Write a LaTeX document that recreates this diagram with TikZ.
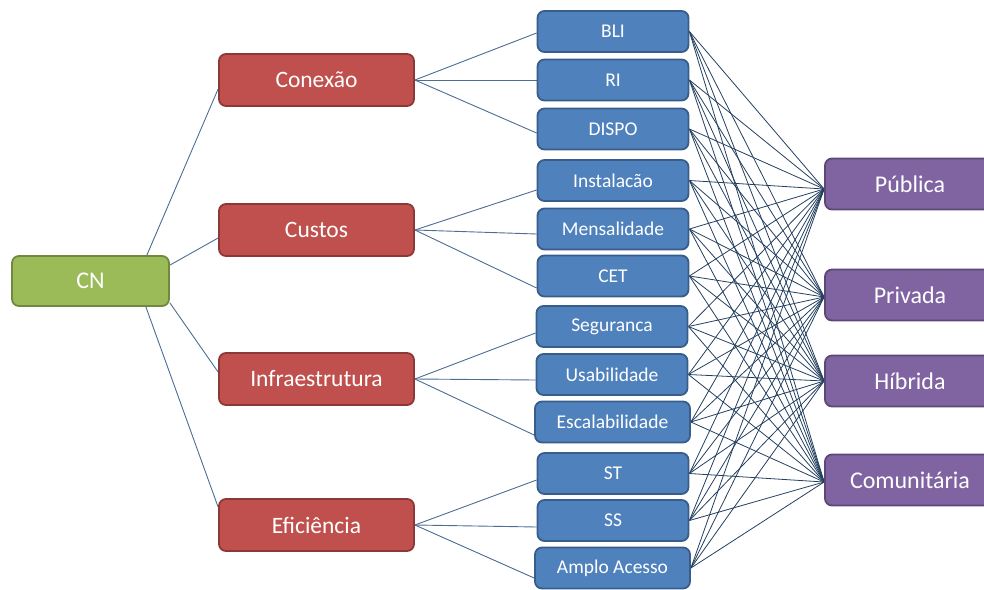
\documentclass[tikz,border=0pt]{standalone}
\usepackage{fontspec}
\setmainfont{Carlito}
\usetikzlibrary{calc,backgrounds}
\definecolor{grfill}{HTML}{9BBB59}
\definecolor{grline}{HTML}{71893F}
\definecolor{rdfill}{HTML}{C0504D}
\definecolor{rdline}{HTML}{8C3836}
\definecolor{blfill}{HTML}{4F81BD}
\definecolor{blline}{HTML}{385D8A}
\definecolor{pufill}{HTML}{8064A2}
\definecolor{puline}{HTML}{5C4776}
\definecolor{lnkA}{HTML}{4D6D93}
\definecolor{lnkB}{HTML}{24405F}
\begin{document}
\begin{tikzpicture}[x=1pt,y=-1pt,
  box/.style={rounded corners=7pt, line width=1.8pt, inner sep=0pt, text=white},
  cnbox/.style={box, fill=grfill, draw=grline, minimum width=157pt, minimum height=50pt, font=\fontsize{24}{28}\selectfont},
  redbox/.style={box, fill=rdfill, draw=rdline, minimum width=195pt, minimum height=52pt, font=\fontsize{23.5}{28}\selectfont},
  bluebox/.style={box, fill=blfill, draw=blline, minimum width=151pt, minimum height=41pt, font=\fontsize{19.5}{23}\selectfont},
  widebluebox/.style={bluebox, minimum width=155pt},
  purbox/.style={box, fill=pufill, draw=puline, minimum width=170pt, minimum height=51pt, font=\fontsize{24}{28}\selectfont},
  linkA/.style={draw=lnkA, line width=0.9pt},
  linkB/.style={draw=lnkB, line width=0.8pt}]
\useasboundingbox (0,0) rectangle (984,589);

\node[cnbox] (cn) at (90.5,281) {CN};

\node[redbox] (conexao) at (316.5,80) {Conexão};
\node[redbox] (custos) at (316.5,230) {Custos};
\node[redbox] (infra) at (316.5,379) {Infraestrutura};
\node[redbox] (efic) at (316.5,525) {Eficiência};

\node[bluebox] (bli) at (613,31.5) {BLI};
\node[bluebox] (ri) at (613,80) {RI};
\node[bluebox] (dispo) at (613,129) {DISPO};
\node[bluebox] (inst) at (613,180.5) {Instalacão};
\node[bluebox] (mens) at (613,229) {Mensalidade};
\node[bluebox] (cet) at (613,276) {CET};
\node[bluebox] (seg) at (612,326.5) {Seguranca};
\node[bluebox] (usa) at (612,374.5) {Usabilidade};
\node[widebluebox] (esc) at (612.5,422) {Escalabilidade};
\node[bluebox] (st) at (613,473.5) {ST};
\node[bluebox] (ss) at (613,520.5) {SS};
\node[widebluebox] (amplo) at (612.5,568) {Amplo Acesso};

\node[purbox] (pub) at (910,184) {Pública};
\node[purbox] (pri) at (910,295) {Privada};
\node[purbox] (hib) at (910,381) {Híbrida};
\node[purbox] (com) at (910,480) {Comunitária};

\begin{scope}[on background layer]
  \draw[linkA] ($(cn.north east)+(-23,0)$) -- ($(conexao.west)+(0,9)$);
  \draw[linkA] ($(cn.north east)+(0,10)$) -- ($(custos.west)+(0,8)$);
  \draw[linkA] ($(cn.south east)+(0,-4)$) -- ($(infra.west)+(0,-7)$);
  \draw[linkA] ($(cn.south east)+(-24,0)$) -- ($(efic.west)+(0,-18)$);

  \draw[linkA] (conexao.east) -- ($(bli.west)+(0,1.5)$);
  \draw[linkA] (conexao.east) -- (ri.west);
  \draw[linkA] (conexao.east) -- ($(dispo.west)+(0,4)$);
  \draw[linkA] (custos.east) -- ($(inst.west)+(0,9.5)$);
  \draw[linkA] (custos.east) -- ($(mens.west)+(0,5)$);
  \draw[linkA] (custos.east) -- ($(cet.west)+(0,12)$);
  \draw[linkA] (infra.east) -- ($(seg.west)+(0,6.5)$);
  \draw[linkA] (infra.east) -- ($(usa.west)+(0,5.5)$);
  \draw[linkA] (infra.east) -- ($(esc.west)+(0,13)$);
  \draw[linkA] (efic.east) -- ($(st.west)+(0,6.5)$);
  \draw[linkA] (efic.east) -- ($(ss.west)+(0,6.5)$);
  \draw[linkA] (efic.east) -- ($(amplo.west)+(0,10)$);

  \foreach \b in {bli,ri,dispo,inst,mens,cet,seg,usa,esc,st,ss,amplo}{
    \foreach \p/\o in {pub/5,pri/2,hib/0,com/2}{
      \draw[linkB] (\b.east) -- ($(\p.west)+(0,\o)$);
    }
  }
\end{scope}
\end{tikzpicture}
\end{document}
